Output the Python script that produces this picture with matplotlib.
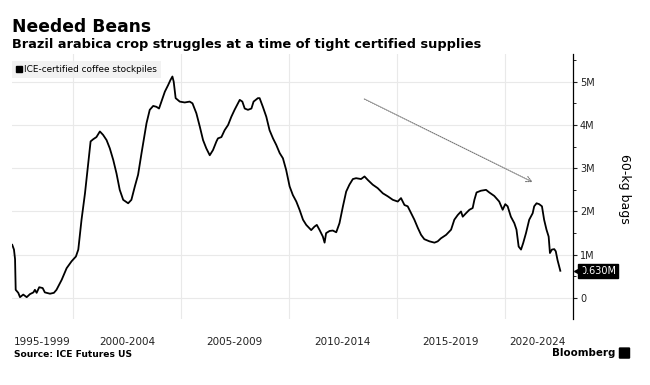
import matplotlib
matplotlib.use("Agg")
import matplotlib.pyplot as plt
import matplotlib.transforms as mtransforms
from matplotlib.lines import Line2D
from matplotlib.ticker import MultipleLocator, FuncFormatter
from matplotlib.patches import FancyBboxPatch

# ICE-certified arabica stockpiles, million 60-kg bags
years = [1997.19, 1997.27, 1997.32, 1997.35, 1997.47, 1997.55, 1997.70, 1997.86, 1998.01, 1998.17,
         1998.24, 1998.32, 1998.44, 1998.60, 1998.70, 1998.94, 1999.12, 1999.24, 1999.48, 1999.71,
         1999.94, 2000.14, 2000.25, 2000.40, 2000.56, 2000.71, 2000.82, 2000.94, 2001.09, 2001.25,
         2001.40, 2001.56, 2001.71, 2001.87, 2002.02, 2002.17, 2002.33, 2002.56, 2002.71, 2002.87,
         2003.02, 2003.18, 2003.41, 2003.56, 2003.72, 2003.87, 2003.99, 2004.10, 2004.26, 2004.41,
         2004.52, 2004.61, 2004.67, 2004.76, 2004.95, 2005.18, 2005.41, 2005.54, 2005.72, 2005.88,
         2006.03, 2006.18, 2006.34, 2006.49, 2006.65, 2006.72, 2006.88, 2007.03, 2007.19, 2007.34,
         2007.49, 2007.65, 2007.73, 2007.85, 2007.96, 2008.11, 2008.27, 2008.37, 2008.57, 2008.65,
         2008.80, 2008.96, 2009.11, 2009.27, 2009.42, 2009.58, 2009.73, 2009.88, 2010.04, 2010.19,
         2010.35, 2010.50, 2010.66, 2010.81, 2011.04, 2011.19, 2011.30, 2011.43, 2011.58, 2011.66,
         2011.73, 2011.89, 2012.04, 2012.20, 2012.35, 2012.51, 2012.66, 2012.81, 2012.97, 2013.12,
         2013.35, 2013.51, 2013.66, 2013.89, 2014.12, 2014.36, 2014.59, 2014.82, 2015.05, 2015.20,
         2015.36, 2015.51, 2015.67, 2015.82, 2015.98, 2016.13, 2016.28, 2016.52, 2016.75, 2016.90,
         2017.05, 2017.29, 2017.52, 2017.67, 2017.83, 2017.98, 2018.06, 2018.21, 2018.37, 2018.52,
         2018.60, 2018.70, 2018.90, 2019.14, 2019.29, 2019.52, 2019.75, 2019.91, 2020.03, 2020.14,
         2020.29, 2020.45, 2020.55, 2020.65, 2020.76, 2020.86, 2020.99, 2021.14, 2021.30, 2021.37,
         2021.48, 2021.60, 2021.73, 2021.83, 2021.94, 2022.04, 2022.10, 2022.19, 2022.30, 2022.37,
         2022.45, 2022.53, 2022.58]
stocks = [1.23, 1.12, 0.90, 0.19, 0.12, 0.02, 0.08, 0.02, 0.09, 0.13,
          0.19, 0.12, 0.25, 0.23, 0.13, 0.10, 0.12, 0.19, 0.42, 0.69,
          0.85, 0.96, 1.12, 1.81, 2.42, 3.12, 3.62, 3.67, 3.72, 3.85,
          3.77, 3.65, 3.46, 3.19, 2.88, 2.50, 2.27, 2.19, 2.27, 2.58,
          2.85, 3.35, 4.04, 4.35, 4.44, 4.42, 4.38, 4.54, 4.77, 4.92,
          5.04, 5.12, 5.00, 4.62, 4.54, 4.52, 4.54, 4.50, 4.27, 3.96,
          3.65, 3.46, 3.30, 3.42, 3.62, 3.69, 3.72, 3.88, 4.00, 4.19,
          4.35, 4.50, 4.58, 4.54, 4.38, 4.35, 4.38, 4.54, 4.62, 4.62,
          4.42, 4.19, 3.88, 3.69, 3.54, 3.35, 3.23, 2.96, 2.58, 2.38,
          2.23, 2.04, 1.81, 1.69, 1.57, 1.65, 1.69, 1.57, 1.42, 1.28,
          1.50, 1.55, 1.56, 1.52, 1.73, 2.12, 2.46, 2.62, 2.75, 2.77,
          2.75, 2.81, 2.73, 2.62, 2.54, 2.42, 2.35, 2.27, 2.23, 2.31,
          2.15, 2.12, 1.96, 1.81, 1.62, 1.46, 1.36, 1.31, 1.28, 1.31,
          1.38, 1.46, 1.58, 1.81, 1.92, 2.00, 1.88, 1.96, 2.04, 2.08,
          2.27, 2.44, 2.48, 2.50, 2.44, 2.36, 2.23, 2.04, 2.17, 2.12,
          1.88, 1.73, 1.58, 1.19, 1.12, 1.27, 1.50, 1.81, 1.96, 2.12,
          2.19, 2.17, 2.12, 1.81, 1.58, 1.42, 1.04, 1.12, 1.13, 1.08,
          0.88, 0.73, 0.63]

period_labels = ["1995-1999", "2000-2004", "2005-2009", "2010-2014", "2015-2019", "2020-2024"]
period_pos = [1998.6, 2002.5, 2007.5, 2012.5, 2017.5, 2021.5]   # label centres
grid_years = [2000, 2005, 2010, 2015, 2020]
trend_from = (2013.5, 4.60)
trend_to = (2021.3, 2.68)

fig = plt.figure(figsize=(6.5, 3.85), dpi=100)
ax = fig.add_axes([0.0185, 0.1714, 0.8631, 0.6883])

ax.plot(years, stocks, color="black", lw=1.3, solid_joinstyle="round", zorder=3)
ax.set_xlim(1997.18, 2023.17)
ax.set_ylim(-0.485, 5.64)

# x: period labels at centres, grid at period boundaries
ax.set_xticks(period_pos)
ax.set_xticklabels(period_labels)
ax.set_xticks(grid_years, minor=True)
ax.tick_params(axis="x", which="both", length=0, pad=13, labelsize=7.5, colors="#222222")
ax.grid(True, axis="x", which="minor", color="#e9e9e9", lw=0.8)

# y on the right
ax.yaxis.tick_right()
ax.yaxis.set_major_locator(MultipleLocator(1))
ax.yaxis.set_minor_locator(MultipleLocator(0.5))
ax.yaxis.set_major_formatter(FuncFormatter(lambda v, p: "0" if v == 0 else f"{v:g}M"))
ax.tick_params(axis="y", which="major", length=3, width=0.8, pad=2, labelsize=7, colors="#222222")
ax.tick_params(axis="y", which="minor", length=2, width=0.6)
ax.grid(True, axis="y", which="major", color="#e9e9e9", lw=0.8)
ax.set_axisbelow(True)
for s in ["left", "top", "bottom"]:
    ax.spines[s].set_visible(False)
ax.spines["right"].set_linewidth(0.9)

# dotted trend arrow
ax.annotate("", xy=trend_to, xytext=trend_from,
            arrowprops=dict(arrowstyle="->", color="#777777", lw=0.8, ls=(0, (1, 1)),
                            shrinkA=0, shrinkB=0, mutation_scale=10))

# last value tag: black box with a small notch pointing at the axis
last = stocks[-1]
ax.annotate(f"{last:.3f}M", xy=(1, last), xycoords=("axes fraction", "data"),
            xytext=(5.2, 0), textcoords="offset points", va="center", ha="left",
            fontsize=7, color="white",
            bbox=dict(boxstyle="square,pad=0.2", fc="black", ec="black"))
notch = ax.get_yaxis_transform() + mtransforms.ScaledTranslation(5 / 100, 0, fig.dpi_scale_trans)
ax.plot([1], [last], marker="<", ms=6, color="black", transform=notch, clip_on=False, zorder=4)

# legend box
h = Line2D([], [], marker="s", ls="none", color="black", markersize=4.5)
leg = ax.legend([h], ["ICE-certified coffee stockpiles"], loc="upper left",
                bbox_to_anchor=(0, 0.975), borderaxespad=0, fontsize=6.4,
                handlelength=0.6, handletextpad=0.35, borderpad=0.45,
                frameon=True, fancybox=False)
leg.get_frame().set_facecolor("#efefef")
leg.get_frame().set_edgecolor("none")

fig.text(0.960, 0.51, "60-kg bags", rotation=270, ha="center", va="center", fontsize=9)

fig.text(0.0185, 0.917, "Needed Beans", fontsize=12.3, fontweight="bold", va="baseline")
fig.text(0.0185, 0.8753, "Brazil arabica crop struggles at a time of tight certified supplies",
         fontsize=9.3, fontweight="bold", va="baseline")
fig.text(0.0215, 0.0805, "Source: ICE Futures US", fontsize=6.6, fontweight="bold", va="center")
fig.text(0.946, 0.083, "Bloomberg", fontsize=7.4, fontweight="bold", ha="right", va="center")
fig.patches.append(FancyBboxPatch((0.954, 0.071), 0.0135, 0.024, boxstyle="round,pad=0.001",
                                  transform=fig.transFigure, fc="black", ec="black"))

fig.savefig("out.png", dpi=100, facecolor="white")
